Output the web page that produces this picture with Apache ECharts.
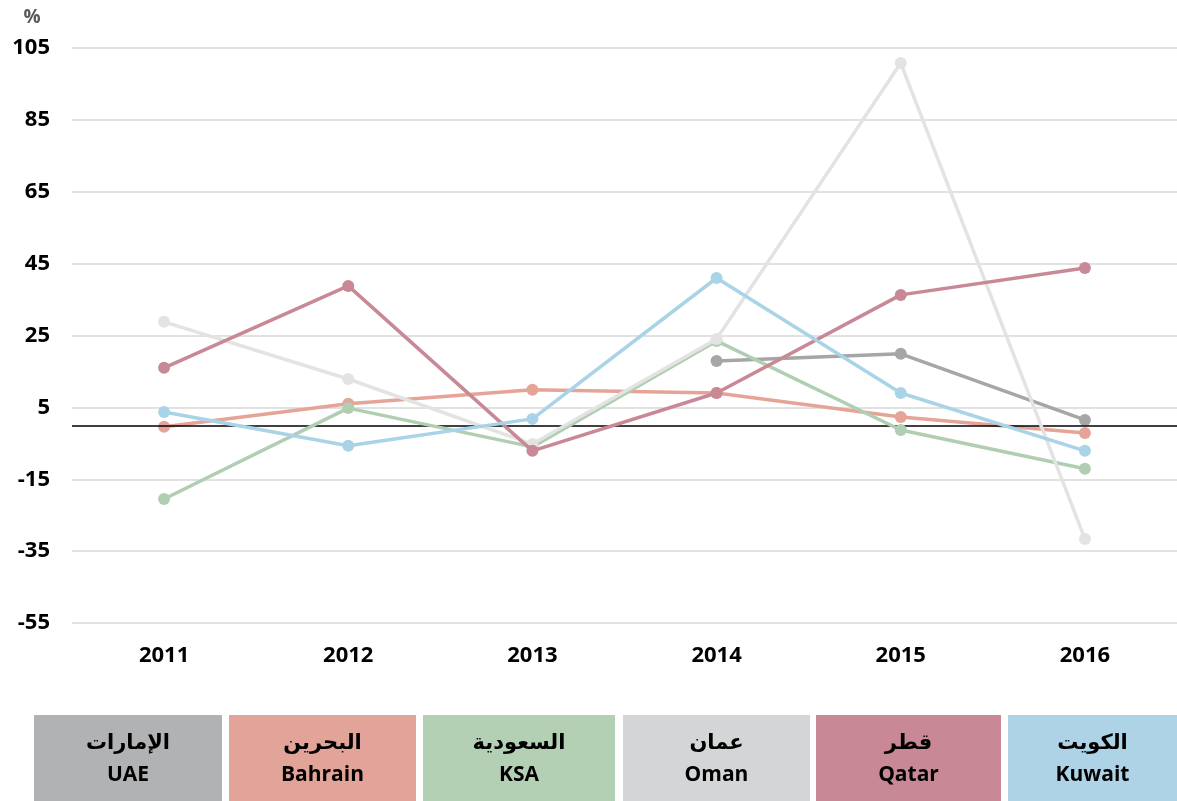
<!DOCTYPE html>
<html>
<head>
<meta charset="utf-8">
<title></title>
<style>
  html, body { margin: 0; padding: 0; background: #fff; }
  #main { width: 1177px; height: 801px; }
</style>
</head>
<body>
<div id="main"></div>
<script src="https://cdn.jsdelivr.net/npm/echarts@6/dist/echarts.min.js"></script>
<script>
// data
var years = ['2011', '2012', '2013', '2014', '2015', '2016'];
var yTicks = [-55, -35, -15, 5, 25, 45, 65, 85, 105];

var uae     = [null, null, null, 17.9, 19.9, 1.5];
var bahrain = [-0.4, 6.0, 9.9, 9.0, 2.3, -2.1];
var ksa     = [-20.5, 4.8, -6.0, 23.5, -1.3, -12.1];
var oman    = [28.8, 12.9, -5.2, 24.0, 100.8, -31.6];
var qatar   = [16.0, 38.8, -7.1, 9.0, 36.3, 43.8];
var kuwait  = [3.7, -5.7, 1.8, 41.0, 9.0, -7.1];

var namesEn = ['UAE', 'Bahrain', 'KSA', 'Oman', 'Qatar', 'Kuwait'];
var namesAr = ['الإمارات', 'البحرين', 'السعودية', 'عمان', 'قطر', 'الكويت'];
var lineColors = ['#a6a6a6', '#e5a497', '#b0cfb2', '#e3e3e3', '#c98896', '#a9d3e6'];
var boxColors  = ['#b1b2b4', '#e2a498', '#b3cfb4', '#d4d5d7', '#c98896', '#aed3e6'];

var font = '"Open Sans", "Noto Sans", "DejaVu Sans", sans-serif';

var allData = [uae, bahrain, ksa, oman, qatar, kuwait];
var series = [];
for (var i = 0; i < allData.length; i++) {
  var s = {
    name: namesEn[i],
    type: 'line',
    data: allData[i],
    symbol: 'circle',
    symbolSize: 12,
    lineStyle: { width: 3.5, color: lineColors[i] },
    itemStyle: { color: lineColors[i] },
    z: 3 + i
  };
  if (i == 0) {
    // zero line
    s.markLine = {
      silent: true,
      symbol: 'none',
      label: { show: false },
      lineStyle: { color: '#000', width: 1.5, type: 'solid' },
      data: [{ yAxis: 0 }]
    };
  }
  series.push(s);
}

// legend boxes at the bottom
var boxX = [34, 229, 423, 623, 816, 1008];
var boxW = [188, 187, 192, 187, 185, 169];
var graphics = [];
for (var j = 0; j < namesEn.length; j++) {
  graphics.push({
    type: 'rect',
    left: boxX[j], top: 715,
    shape: { width: boxW[j], height: 86 },
    style: { fill: boxColors[j] }
  });
  graphics.push({
    type: 'text',
    x: boxX[j] + boxW[j] / 2, y: 744,
    style: {
      text: namesAr[j], fill: '#000', font: 'bold 21px "DejaVu Sans", "Noto Sans", sans-serif',
      textAlign: 'center', textVerticalAlign: 'middle'
    }
  });
  graphics.push({
    type: 'text',
    x: boxX[j] + boxW[j] / 2, y: 775,
    style: {
      text: namesEn[j], fill: '#000', font: 'bold 21px ' + font,
      textAlign: 'center', textVerticalAlign: 'middle'
    }
  });
}
graphics.push({
  type: 'text',
  x: 32, y: 18,
  style: { text: '%', fill: '#595959', font: 'bold 19px ' + font, textAlign: 'center', textVerticalAlign: 'middle' }
});

var myChart = echarts.init(document.getElementById('main'));
myChart.setOption({
  animation: false,
  backgroundColor: '#fff',
  grid: { left: 72, right: 0, top: 48, bottom: 178, containLabel: false },
  xAxis: {
    type: 'category',
    data: years,
    boundaryGap: true,
    axisLine: { show: false },
    axisTick: { show: false },
    axisLabel: { color: '#000', fontSize: 22, fontWeight: 'bold', fontFamily: font, margin: 22 }
  },
  yAxis: {
    type: 'value',
    min: yTicks[0],
    max: yTicks[yTicks.length - 1],
    interval: 20,
    axisLine: { show: false },
    axisTick: { show: false },
    splitLine: { lineStyle: { color: '#d9d9d9', width: 1.5 } },
    axisLabel: { color: '#000', fontSize: 22, fontWeight: 'bold', fontFamily: font, margin: 22 }
  },
  series: series,
  graphic: graphics
});
</script>
</body>
</html>
